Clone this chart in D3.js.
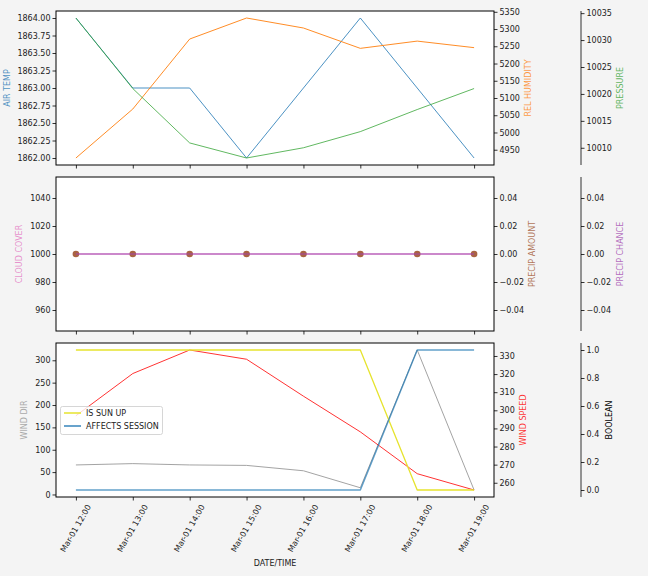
<!DOCTYPE html>
<html>
<head>
<meta charset="utf-8">
<script src="https://cdn.jsdelivr.net/npm/d3@7"></script>
<style>
  html, body { margin: 0; padding: 0; background: #f4f4f4; }
  svg { display: block; font-family: "DejaVu Sans", sans-serif; }
</style>
</head>
<body>
<svg id="chart" width="648" height="576"></svg>
<script>
// ---------- DATA ----------
const times = ["2021-03-01 12:00", "2021-03-01 13:00", "2021-03-01 14:00", "2021-03-01 15:00",
               "2021-03-01 16:00", "2021-03-01 17:00", "2021-03-01 18:00", "2021-03-01 19:00"];
const airTemp     = [1864, 1863, 1863, 1862, 1863, 1864, 1863, 1862];
const relHumidity = [4926, 5068, 5271, 5332, 5303, 5244, 5265, 5246];
const pressure    = [10034.1, 10021, 10010.9, 10008.1, 10010, 10013, 10017.1, 10021];
const cloudCover  = [1000, 1000, 1000, 1000, 1000, 1000, 1000, 1000];
const precipAmount= [0, 0, 0, 0, 0, 0, 0, 0];
const precipChance= [0, 0, 0, 0, 0, 0, 0, 0];
const windDir     = [66, 69, 66, 65, 53, 15, 323, 10];
const windSpeed   = [297, 320.3, 333.3, 328.2, 307.8, 288.1, 265, 256];
const isSunUp     = [1, 1, 1, 1, 1, 1, 0, 0];
const affectsSession = [0, 0, 0, 0, 0, 0, 1, 1];

const airTempTicks  = [1862, 1862.25, 1862.5, 1862.75, 1863, 1863.25, 1863.5, 1863.75, 1864];
const humidityTicks = [4950, 5000, 5050, 5100, 5150, 5200, 5250, 5300, 5350];
const pressureTicks = [10010, 10015, 10020, 10025, 10030, 10035];
const cloudTicks    = [960, 980, 1000, 1020, 1040];
const precipTicks   = [-0.04, -0.02, 0, 0.02, 0.04];
const windDirTicks  = [0, 50, 100, 150, 200, 250, 300];
const windSpeedTicks= [260, 270, 280, 290, 300, 310, 320, 330];
const boolTicks     = [0, 0.2, 0.4, 0.6, 0.8, 1.0];

// ---------- LAYOUT ----------
const svg = d3.select("#chart");
const W = 648, H = 576;
const left = 56, right = 494, third = 581;
const panelTops = [11, 177, 343];
const panelH = 154;
const FS = 8;
const textColor = "#222";

svg.append("rect").attr("width", W).attr("height", H).attr("fill", "#f4f4f4");

const parse = d3.timeParse("%Y-%m-%d %H:%M");
const dates = times.map(parse);
const tExt = d3.extent(dates);
const tSpan = tExt[1] - tExt[0];
const x = d3.scaleTime()
  .domain([new Date(+tExt[0] - 0.05 * tSpan), new Date(+tExt[1] + 0.05 * tSpan)])
  .range([left, right]);

function padDomain(vals) {
  let [lo, hi] = d3.extent(vals);
  if (lo === hi) {
    if (lo === 0) { lo = -0.05; hi = 0.05; }
    else { const v = lo; lo = v - Math.abs(v) * 0.05; hi = v + Math.abs(v) * 0.05; }
  }
  const s = hi - lo;
  return [lo - 0.05 * s, hi + 0.05 * s];
}

const minusFmt = f => (v => { const s = d3.format(f)(v); return s.replace("-", "\u2212"); });

function yScale(vals, p) {
  return d3.scaleLinear().domain(padDomain(vals)).range([panelTops[p] + panelH, panelTops[p]]);
}

function styleAxis(g) {
  g.selectAll("text").attr("font-size", FS).attr("fill", textColor).attr("font-family", "DejaVu Sans, sans-serif");
  g.selectAll("line").attr("stroke", "#000").attr("stroke-width", 0.8);
  g.selectAll("path.domain").attr("stroke", "#000").attr("stroke-width", 1);
}

function drawPanel(p) {
  const top = panelTops[p];
  svg.append("rect").attr("x", left).attr("y", top).attr("width", right - left).attr("height", panelH)
    .attr("fill", "#fff");
}

function leftAxis(scale, ticks, fmt, p) {
  const g = svg.append("g").attr("transform", `translate(${left},0)`)
    .call(d3.axisLeft(scale).tickValues(ticks).tickFormat(fmt).tickSize(3.5).tickPadding(2).tickSizeOuter(0));
  g.select("path.domain").remove();
  styleAxis(g);
}
function rightAxis(scale, ticks, fmt, p, xpos, keepDomain) {
  const g = svg.append("g").attr("transform", `translate(${xpos},0)`)
    .call(d3.axisRight(scale).tickValues(ticks).tickFormat(fmt).tickSize(3.5).tickPadding(2).tickSizeOuter(0));
  g.select("path.domain").remove();
  if (keepDomain) {
    g.append("line").attr("x1", 0).attr("x2", 0)
      .attr("y1", panelTops[p]).attr("y2", panelTops[p] + panelH)
      .attr("stroke", "#000").attr("stroke-width", 1);
  }
  styleAxis(g);
}
function frame(p) {
  svg.append("rect").attr("x", left).attr("y", panelTops[p]).attr("width", right - left).attr("height", panelH)
    .attr("fill", "none").attr("stroke", "#000").attr("stroke-width", 1);
}
function xTicks(p, labels) {
  const g = svg.append("g").attr("transform", `translate(0,${panelTops[p] + panelH})`)
    .call(d3.axisBottom(x).tickValues(dates).tickFormat("").tickSize(3.5).tickSizeOuter(0));
  g.select("path.domain").remove();
  styleAxis(g);
  if (labels) {
    const fmt = d3.timeFormat("%b-%d %H:%M");
    svg.append("g").selectAll("text").data(dates).join("text")
      .attr("transform", d => `translate(${x(d)},528.5) rotate(-60)`)
      .attr("text-anchor", "middle").attr("dominant-baseline", "central")
      .attr("font-size", FS).attr("fill", textColor)
      .text(d => fmt(d));
  }
}
function ylabel(txt, xc, p, color, op) {
  const yc = panelTops[p] + panelH / 2;
  svg.append("text").attr("transform", `translate(${xc},${yc}) rotate(-90)`)
    .attr("text-anchor", "middle").attr("dominant-baseline", "central")
    .attr("font-size", FS).attr("fill", color).attr("fill-opacity", op == null ? 1 : op)
    .text(txt);
}
function line(vals, scale, color, op, w) {
  svg.append("path")
    .datum(vals)
    .attr("fill", "none").attr("stroke", color).attr("stroke-opacity", op).attr("stroke-width", w || 1)
    .attr("stroke-linejoin", "round")
    .attr("d", d3.line().x((d, i) => x(dates[i])).y(d => scale(d)));
}

// ---------- PANEL 1 ----------
const yAir = yScale(airTemp, 0), yHum = yScale(relHumidity, 0), yPres = yScale(pressure, 0);
drawPanel(0);
line(airTemp, yAir, "#1f77b4", 0.8);
line(relHumidity, yHum, "#ff7f0e", 0.9);
line(pressure, yPres, "#2ca02c", 0.75);
frame(0);
leftAxis(yAir, airTempTicks, d3.format(".2f"), 0);
rightAxis(yHum, humidityTicks, d3.format("d"), 0, right, false);
rightAxis(yPres, pressureTicks, d3.format("d"), 0, third, true);
xTicks(0, false);
ylabel("AIR TEMP", 7, 0, "#1f77b4", 0.8);
ylabel("REL HUMIDITY", 528, 0, "#ff7f0e", 0.8);
ylabel("PRESSURE", 620.5, 0, "#2ca02c", 0.75);

// ---------- PANEL 2 ----------
const yCloud = yScale(cloudCover, 1), yPAmt = yScale(precipAmount, 1), yPCh = yScale(precipChance, 1);
drawPanel(1);
line(cloudCover, yCloud, "#e377c2", 0.8);
svg.append("g").selectAll("circle").data(precipAmount).join("circle")
  .attr("cx", (d, i) => x(dates[i])).attr("cy", d => yPAmt(d)).attr("r", 3.3)
  .attr("fill", "#a0522d").attr("fill-opacity", 0.9);
line(precipChance, yPCh, "#a349b0", 1);
frame(1);
leftAxis(yCloud, cloudTicks, d3.format("d"), 1);
rightAxis(yPAmt, precipTicks, minusFmt(".2f"), 1, right, false);
rightAxis(yPCh, precipTicks, minusFmt(".2f"), 1, third, true);
xTicks(1, false);
ylabel("CLOUD COVER", 19, 1, "#e377c2", 0.8);
ylabel("PRECIP AMOUNT", 532, 1, "#a0522d", 0.8);
ylabel("PRECIP CHANCE", 620, 1, "#a349b0", 0.8);

// ---------- PANEL 3 ----------
const yWD = yScale(windDir, 2), yWS = yScale(windSpeed, 2), yB = yScale(isSunUp.concat(affectsSession), 2);
drawPanel(2);
line(windDir, yWD, "#999", 0.9);
line(windSpeed, yWS, "red", 0.8);
line(isSunUp, yB, "#e6e32e", 1, 1.3);
line(affectsSession, yB, "#1f77b4", 0.7, 1.5);
frame(2);
leftAxis(yWD, windDirTicks, d3.format("d"), 2);
rightAxis(yWS, windSpeedTicks, d3.format("d"), 2, right, false);
rightAxis(yB, boolTicks, d3.format(".1f"), 2, third, true);
xTicks(2, true);
ylabel("WIND DIR", 24, 2, "#aaa", 1);
ylabel("WIND SPEED", 523, 2, "red", 0.8);
ylabel("BOOLEAN", 609, 2, "#000", 1);

// legend
const leg = svg.append("g");
leg.append("rect").attr("x", 60.5).attr("y", 406.5).attr("width", 102).attr("height", 28)
  .attr("rx", 2).attr("fill", "#fff").attr("fill-opacity", 0.8).attr("stroke", "#ccc").attr("stroke-width", 0.8);
const legItems = [["IS SUN UP", "#e6e32e", 1], ["AFFECTS SESSION", "#1f77b4", 0.9]];
legItems.forEach((it, i) => {
  const yy = 413 + i * 13;
  leg.append("line").attr("x1", 64).attr("x2", 81).attr("y1", yy).attr("y2", yy)
    .attr("stroke", it[1]).attr("stroke-opacity", it[2]).attr("stroke-width", 1.5);
  leg.append("text").attr("x", 86).attr("y", yy).attr("dominant-baseline", "central")
    .attr("font-size", FS).attr("fill", textColor).text(it[0]);
});

// x label
svg.append("text").attr("x", 275).attr("y", 563).attr("text-anchor", "middle")
  .attr("dominant-baseline", "central").attr("font-size", FS).attr("fill", textColor).text("DATE/TIME");
</script>
</body>
</html>
